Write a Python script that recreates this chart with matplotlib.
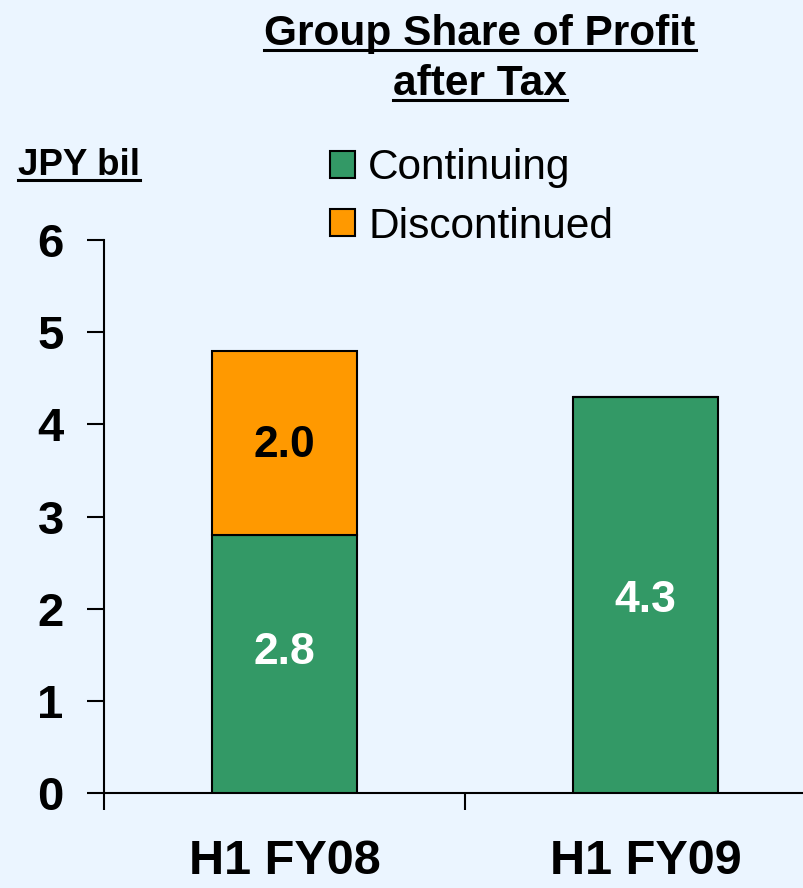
import matplotlib
matplotlib.use("Agg")
import matplotlib.pyplot as plt
from matplotlib.patches import Patch
from matplotlib.lines import Line2D

plt.rcParams['font.family'] = ['Liberation Sans', 'DejaVu Sans']

categories = ["H1 FY08", "H1 FY09"]
continuing = [2.8, 4.3]
discontinued = [2.0, 0.0]
cont_labels = ["2.8", "4.3"]
disc_labels = ["2.0", ""]
yticks = [0, 1, 2, 3, 4, 5, 6]

BG = "#EBF5FF"
GREEN = "#339966"
ORANGE = "#FF9900"
cont_label_shift_pt = [8, -4]
disc_label_shift_pt = -2

W, H = 804, 888
fig = plt.figure(figsize=(W / 100, H / 100), dpi=100, facecolor=BG)
ax = fig.add_axes([104 / W, (H - 793) / H, (826 - 104) / W, (793 - 240) / H])
ax.set_facecolor(BG)

x = list(range(len(categories)))
ax.bar(x, continuing, width=0.4, color=GREEN, edgecolor="black", linewidth=1.5, zorder=3)
ax.bar(x, discontinued, width=0.4, bottom=continuing, color=ORANGE, edgecolor="black",
       linewidth=1.5, zorder=3)

for i in x:
    ax.annotate(cont_labels[i], (i, continuing[i] / 2), xytext=(0, cont_label_shift_pt[i]),
                textcoords="offset points", ha="center", va="center",
                color="white", fontsize=32, fontweight="bold", zorder=4)
    if disc_labels[i]:
        ax.annotate(disc_labels[i], (i, continuing[i] + discontinued[i] / 2),
                    xytext=(0, disc_label_shift_pt), textcoords="offset points",
                    ha="center", va="center", color="black", fontsize=32,
                    fontweight="bold", zorder=4)

ax.set_xlim(-0.5, 1.5)
ax.set_ylim(0, 6)
ax.set_yticks(yticks)
ax.set_yticklabels([str(v) for v in yticks], fontsize=34, fontweight="bold")
ax.tick_params(axis="y", direction="out", length=12, width=1.5, pad=17)

ax.set_xticks(x)
ax.set_xticklabels(categories, fontsize=35, fontweight="bold")
ax.tick_params(axis="x", which="major", length=0, pad=33)
ax.set_xticks([-0.5, 0.5, 1.5], minor=True)
ax.tick_params(axis="x", which="minor", direction="out", length=12, width=1.5)

for s in ["top", "right"]:
    ax.spines[s].set_visible(False)
for s in ["left", "bottom"]:
    ax.spines[s].set_linewidth(1.5)

handles = [Patch(facecolor=GREEN, edgecolor="black", linewidth=1.5, label="Continuing"),
           Patch(facecolor=ORANGE, edgecolor="black", linewidth=1.5, label="Discontinued")]
fig.legend(handles=handles, loc="upper left", bbox_to_anchor=(330 / W, 1 - 148 / H),
           frameon=False, fontsize=30.5, handlelength=0.6, handleheight=0.6,
           handletextpad=0.3, labelspacing=0.44, borderaxespad=0, borderpad=0)

t1 = fig.text(480 / W, 1 - 45 / H, "Group Share of Profit", ha="center", va="baseline",
              fontsize=30.5, fontweight="bold")
t2 = fig.text(480 / W, 1 - 95 / H, "after Tax", ha="center", va="baseline",
              fontsize=30.5, fontweight="bold")
t3 = fig.text(18 / W, 1 - 175 / H, "JPY bil", ha="left", va="baseline",
              fontsize=26.5, fontweight="bold")

fig.canvas.draw()
r = fig.canvas.get_renderer()
for t, lw in [(t1, 2.2), (t2, 2.2), (t3, 2.2)]:
    bb = t.get_window_extent(renderer=r)
    pos = t.get_position()
    ybase = pos[1] * H - 5
    fig.add_artist(Line2D([bb.x0 / W, bb.x1 / W], [ybase / H, ybase / H],
                          transform=fig.transFigure, color="black", linewidth=lw))

fig.savefig("out.png", dpi=100, facecolor=BG)
